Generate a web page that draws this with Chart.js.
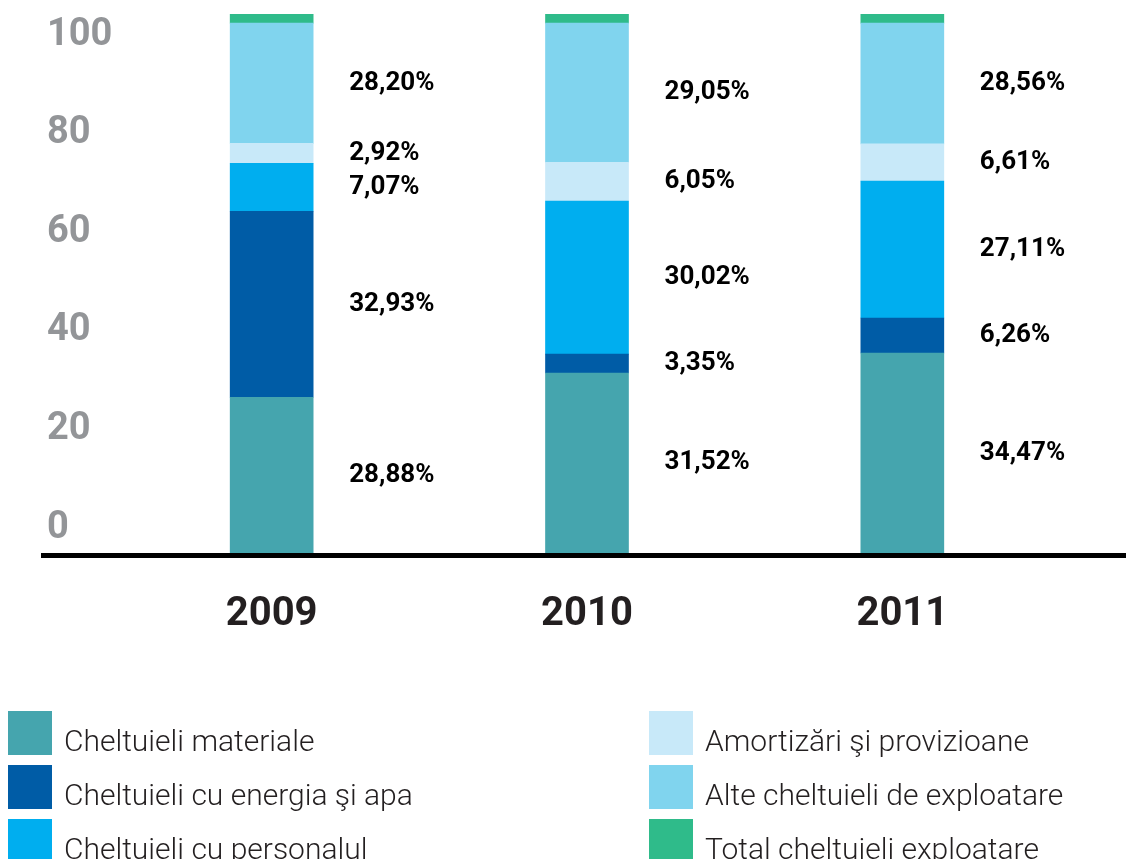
<!DOCTYPE html>
<html>
<head>
<meta charset="utf-8">
<script src="https://cdn.jsdelivr.net/npm/chart.js@4"></script>
<style>
  html, body { margin: 0; background: #fff; }
  #wrap { position: relative; width: 1126px; height: 859px; }
</style>
</head>
<body>
<div id="wrap"><canvas id="chart"></canvas></div>
<script>
// ani
const years = ['2009', '2010', '2011'];
const yTicks = [0, 20, 40, 60, 80, 100];

// inaltimea segmentelor asa cum sunt desenate
const materiale = [28.9, 33.4, 37.1];
const energie = [34.5, 3.5, 6.5];
const personal = [8.9, 28.4, 25.4];
const amortizari = [3.7, 7.2, 6.9];
const alte = [22.3, 25.8, 22.4];
const total = [1.7, 1.7, 1.7];

// procentele scrise langa bare
const materialePct = [28.88, 31.52, 34.47];
const energiePct = [32.93, 3.35, 6.26];
const personalPct = [7.07, 30.02, 27.11];
const amortizariPct = [2.92, 6.05, 6.61];
const altePct = [28.20, 29.05, 28.56];

const FONT = 'Roboto, "Noto Sans", sans-serif';

const fmtPct = v => v.toFixed(2).replace('.', ',') + '%';

// linia neagra de baza + etichetele procentuale
const annotations = {
  id: 'annotations',
  afterDatasetsDraw(chart) {
    const { ctx, chartArea, width } = chart;
    ctx.save();
    ctx.fillStyle = '#000';
    ctx.fillRect(41, chartArea.bottom, width - 41, 5);

    ctx.font = 'bold 26px ' + FONT;
    ctx.textAlign = 'left';
    ctx.textBaseline = 'middle';
    chart.data.datasets.forEach((ds, i) => {
      if (!ds.pct) return;
      chart.getDatasetMeta(i).data.forEach((bar, j) => {
        const { x, y, base, width: w } = bar.getProps(['x', 'y', 'base', 'width'], true);
        ctx.fillText(fmtPct(ds.pct[j]), x + w / 2 + 36, (y + base) / 2);
      });
    });
    ctx.restore();
  }
};

// legenda pe doua coloane, jos
const legendGrid = {
  id: 'legendGrid',
  afterDraw(chart) {
    const { ctx } = chart;
    ctx.save();
    ctx.font = '300 30px ' + FONT;
    ctx.textAlign = 'left';
    ctx.textBaseline = 'alphabetic';
    chart.data.datasets.forEach((ds, i) => {
      const col = Math.floor(i / 3);
      const row = i % 3;
      const x = col === 0 ? 8 : 649;
      const top = 711 + row * 54;
      ctx.fillStyle = ds.backgroundColor;
      ctx.fillRect(x, top, 44, 44);
      ctx.fillStyle = '#231f20';
      ctx.fillText(ds.label, x + 56, top + 40);
    });
    ctx.restore();
  }
};

new Chart(document.getElementById('chart'), {
  type: 'bar',
  data: {
    labels: years,
    datasets: [
      { label: 'Cheltuieli materiale', data: materiale, pct: materialePct, backgroundColor: '#45a5ae' },
      { label: 'Cheltuieli cu energia şi apa', data: energie, pct: energiePct, backgroundColor: '#005ca6' },
      { label: 'Cheltuieli cu personalul', data: personal, pct: personalPct, backgroundColor: '#00aeef' },
      { label: 'Amortizări şi provizioane', data: amortizari, pct: amortizariPct, backgroundColor: '#c8e9f9' },
      { label: 'Alte cheltuieli de exploatare', data: alte, pct: altePct, backgroundColor: '#80d4ee' },
      { label: 'Total cheltuieli exploatare', data: total, backgroundColor: '#2fbb8a' },
    ],
  },
  options: {
    responsive: true,
    maintainAspectRatio: false,
    animation: false,
    barThickness: 83,
    layout: { padding: { top: 14, left: 47, right: 66, bottom: 0 } },
    plugins: { legend: { display: false }, tooltip: { enabled: false } },
    scales: {
      x: {
        stacked: true,
        grid: { display: false, drawTicks: false },
        border: { display: false },
        ticks: { padding: 38, color: '#231f20', font: { family: FONT, size: 40, weight: 'bold' } },
        afterFit(axis) { axis.height = 306; axis.paddingLeft = 0; axis.paddingRight = 0; },
      },
      y: { stacked: true, display: false, min: 0, max: 100 },
      // axa cu etichete: in original cifrele nu stau exact pe valori
      yl: {
        position: 'left',
        min: -5.07,
        max: 104.26,
        grid: { display: false, drawTicks: false },
        border: { display: false },
        afterBuildTicks(axis) { axis.ticks = yTicks.map(v => ({ value: v })); },
        afterFit(axis) { axis.width = 67; axis.paddingTop = 0; axis.paddingBottom = 0; },
        ticks: { crossAlign: 'far', padding: 0, color: '#939598', font: { family: FONT, size: 38, weight: 'bold' } },
      },
    },
  },
  plugins: [annotations, legendGrid],
});
</script>
</body>
</html>
